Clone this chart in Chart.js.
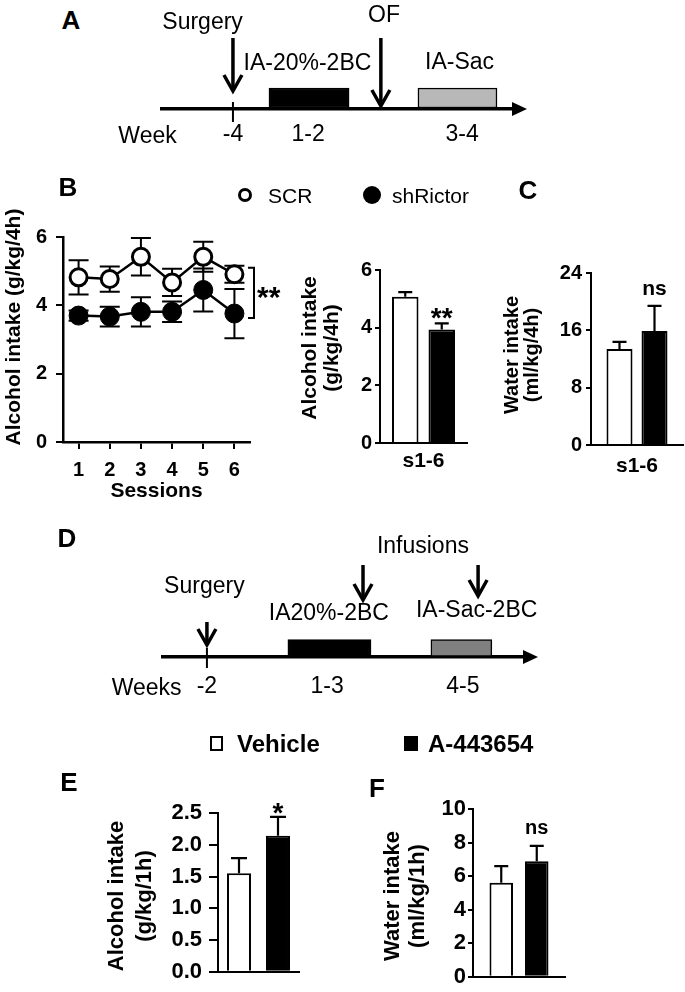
<!DOCTYPE html>
<html><head><meta charset="utf-8">
<script src="https://cdn.jsdelivr.net/npm/chart.js@4.4.1/dist/chart.umd.min.js"></script>
<style>
html,body{margin:0;padding:0;background:#fff;}
#fig{position:relative;width:685px;height:992px;overflow:hidden;background:#fff;font-family:'Liberation Sans',Arial,Helvetica,sans-serif;color:#000;}
canvas{position:absolute;}
.t{position:absolute;white-space:nowrap;line-height:1;}
.L{font-weight:bold;font-size:26px;transform:translateX(-50%);}
</style></head><body>
<div id="fig">
  <canvas id="cA" style="left:100px;top:0px" width="460" height="160"></canvas>
  <canvas id="cBline" style="left:0px;top:160px" width="300" height="350"></canvas>
  <canvas id="cBbar" style="left:290px;top:160px" width="195" height="340"></canvas>
  <canvas id="cC" style="left:480px;top:160px" width="205" height="340"></canvas>
  <canvas id="cD" style="left:100px;top:520px" width="460" height="185"></canvas>
  <canvas id="cE" style="left:100px;top:700px" width="205" height="292"></canvas>
  <canvas id="cF" style="left:370px;top:700px" width="200" height="292"></canvas>

  <div class="t L" style="left:71px;top:7px">A</div>
  <div class="t L" style="left:68px;top:174px">B</div>
  <div class="t L" style="left:528px;top:177px">C</div>
  <div class="t L" style="left:67px;top:525px">D</div>
  <div class="t L" style="left:69px;top:769px">E</div>
  <div class="t L" style="left:377px;top:775px">F</div>

  <!-- legend B -->
  <div style="position:absolute;left:238px;top:188px;width:14px;height:14px;border:3px solid #000;border-radius:50%;box-sizing:border-box;background:#fff"></div>
  <div class="t" style="left:268px;top:185px;font-size:21px">SCR</div>
  <div style="position:absolute;left:363px;top:186px;width:18px;height:18px;border-radius:50%;background:#000"></div>
  <div class="t" style="left:392px;top:185px;font-size:21px">shRictor</div>

  <!-- legend E/F -->
  <div style="position:absolute;left:210px;top:736px;width:13px;height:15px;border:2px solid #000;box-sizing:border-box;background:#fff"></div>
  <div class="t" style="left:237px;top:732px;font-size:24px;font-weight:bold">Vehicle</div>
  <div style="position:absolute;left:404px;top:736px;width:14px;height:15px;background:#000"></div>
  <div class="t" style="left:428px;top:732px;font-size:24px;font-weight:bold">A-443654</div>
</div>
<script>
// ---------------- DATA ----------------
// Panel A timeline (schematic position units 0-10)
const timelineA_blocks = [[3.03, 5.30], [7.25, 9.49]];
const timelineA_blockColors = ['#000000', '#b8b8b8'];
const timelineA_tickPos = [2.01, 4.14, 8.50];
const timelineA_tickLabels = ['-4', '1-2', '3-4'];
const timelineA_arrowPos = [2.01, 6.20];
const timelineA_texts = ['Surgery', 'IA-20%-2BC', 'OF', 'IA-Sac', 'Week'];
const timelineA_textPos = [1.15, 4.12, 6.29, 8.43, -0.41];

// Panel B (line)
const sessions = ['1', '2', '3', '4', '5', '6'];
const scrMean = [4.82, 4.77, 5.42, 4.67, 5.42, 4.91];
const scrSem  = [0.50, 0.37, 0.55, 0.40, 0.44, 0.25];
const shMean  = [3.70, 3.67, 3.81, 3.81, 4.45, 3.76];
const shSem   = [0.15, 0.29, 0.43, 0.30, 0.63, 0.72];
const bracketRange = [5.10, 3.63];

// Panel B (bar) and C
const sessCat = ['s1-6'];
const alcScr = [5.07], alcScrSem = [0.16];
const alcSh  = [3.94], alcShSem  = [0.21];
const watScr = [13.4], watScrSem = [1.0];
const watSh  = [15.9], watShSem  = [3.5];

// Panel D timeline
const timelineD_blocks = [[3.44, 5.73], [7.38, 9.06]];
const timelineD_blockColors = ['#000000', '#808080'];
const timelineD_tickPos = [1.21, 4.52, 8.26];
const timelineD_tickLabels = ['-2', '1-3', '4-5'];
const timelineD_arrowPos = [1.21, 5.51, 8.68];
const timelineD_texts = ['Infusions', 'Surgery', 'IA20%-2BC', 'IA-Sac-2BC', 'Weeks'];
const timelineD_textPos = [7.16, 1.14, 4.57, 8.64, -0.45];

// Panels E and F
const groupsEF = ['Vehicle', 'A-443654'];
const alcE = [1.55, 2.14], alcESem = [0.24, 0.30];
const watF = [5.6, 6.88], watFSem = [1.0, 0.92];

// ---------------- STYLE / HELPERS ----------------
const FAM = "'Liberation Sans', Arial, Helvetica, sans-serif";
Chart.defaults.font.family = FAM;
Chart.defaults.color = '#000';
Chart.defaults.animation = false;
Chart.defaults.responsive = false;
Chart.defaults.events = [];
Chart.defaults.plugins.legend.display = false;
Chart.defaults.plugins.tooltip.enabled = false;

function errorBars(o) {
  function draw(chart) {
    const ctx = chart.ctx, y = chart.scales.y;
    chart.data.datasets.forEach((ds, di) => {
      if (!ds.errors) return;
      chart.getDatasetMeta(di).data.forEach((el, i) => {
        const v = ds.data[i], e = ds.errors[i];
        const x = el.x;
        const yt = y.getPixelForValue(v + e);
        const yb = y.getPixelForValue(o.both ? v - e : v);
        ctx.save();
        ctx.strokeStyle = '#000'; ctx.lineWidth = o.width; ctx.lineCap = 'butt';
        ctx.beginPath();
        ctx.moveTo(x, yb); ctx.lineTo(x, yt);
        ctx.moveTo(x - o.cap, yt); ctx.lineTo(x + o.cap, yt);
        if (o.both) { ctx.moveTo(x - o.cap, yb); ctx.lineTo(x + o.cap, yb); }
        ctx.stroke();
        ctx.restore();
      });
    });
  }
  return {
    id: 'errbars',
    beforeDatasetsDraw(chart) { if (o.layer === 'before') draw(chart); },
    afterDatasetsDraw(chart) { if (o.layer !== 'before') draw(chart); }
  };
}

function yTitle(o) {
  return {
    id: 'ytitle',
    afterDraw(chart) {
      const ctx = chart.ctx;
      ctx.save();
      ctx.font = o.font; ctx.fillStyle = '#000';
      ctx.textAlign = 'center'; ctx.textBaseline = 'middle';
      o.lines.forEach((t, i) => {
        ctx.save(); ctx.translate(o.xs[i], o.yc); ctx.rotate(-Math.PI / 2);
        ctx.fillText(t, 0, 0); ctx.restore();
      });
      ctx.restore();
    }
  };
}

function notes(items) {
  return {
    id: 'notes',
    afterDatasetsDraw(chart) {
      const ctx = chart.ctx;
      items.forEach(it => {
        const ds = chart.data.datasets[it.ds];
        const el = chart.getDatasetMeta(it.ds).data[it.i];
        const v = ds.data[it.i] + (ds.errors ? ds.errors[it.i] : 0);
        const y = chart.scales.y.getPixelForValue(v) - it.gap;
        ctx.save();
        ctx.font = it.font; ctx.fillStyle = '#000';
        ctx.textAlign = 'center'; ctx.textBaseline = 'alphabetic';
        ctx.fillText(it.text, el.x, y);
        ctx.restore();
      });
    }
  };
}

function timelinePlugin(o) {
  return {
    id: 'timeline',
    afterDraw(chart) {
      const ctx = chart.ctx, xs = chart.scales.x, ca = chart.chartArea;
      ctx.save();
      ctx.fillStyle = '#000'; ctx.strokeStyle = '#000';
      // axis arrow head
      const yl = ca.bottom;
      ctx.beginPath();
      ctx.moveTo(ca.right - 3, yl - 7); ctx.lineTo(ca.right + 12, yl); ctx.lineTo(ca.right - 3, yl + 7);
      ctx.closePath(); ctx.fill();
      // tick at first event
      ctx.lineWidth = 2;
      const tx = xs.getPixelForValue(o.tickAt);
      ctx.beginPath(); ctx.moveTo(tx, o.tickSpan[0]); ctx.lineTo(tx, o.tickSpan[1]); ctx.stroke();
      // arrows
      o.arrows.forEach(a => {
        const x = xs.getPixelForValue(a.v);
        ctx.lineWidth = 3.5; ctx.lineJoin = 'miter'; ctx.lineCap = 'butt';
        ctx.beginPath(); ctx.moveTo(x, a.top); ctx.lineTo(x, a.tip - 3); ctx.stroke();
        ctx.lineWidth = 3.5;
        ctx.beginPath();
        ctx.moveTo(x - 9, a.tip - 18); ctx.lineTo(x, a.tip - 2); ctx.lineTo(x + 9, a.tip - 18);
        ctx.stroke();
      });
      // texts
      ctx.font = o.font; ctx.textAlign = 'center'; ctx.textBaseline = 'alphabetic';
      o.texts.forEach(t => ctx.fillText(t.text, xs.getPixelForValue(t.v), t.base));
      ctx.restore();
    }
  };
}

function timelineChart(id, c) {
  return new Chart(document.getElementById(id), {
    type: 'bar',
    data: {
      labels: [''],
      datasets: c.blocks.map((b, i) => ({
        data: [b], backgroundColor: c.colors[i], borderColor: '#000',
        borderWidth: 1.5, borderSkipped: false, barThickness: c.thick, grouped: false
      }))
    },
    options: {
      indexAxis: 'y',
      layout: { padding: c.padding },
      scales: {
        x: {
          type: 'linear', min: 0, max: 10,
          afterBuildTicks: s => { s.ticks = c.tickPos.map(v => ({ value: v })); },
          afterFit: s => { s.height = c.xHeight; },
          ticks: { autoSkip: false, maxRotation: 0, font: { size: 23 }, padding: c.tickPad,
                   callback: (v, i) => c.tickLabels[i] },
          grid: { display: false, drawTicks: false },
          border: { display: true, color: '#000', width: 3.5 }
        },
        y: { display: false }
      }
    },
    plugins: [timelinePlugin(c.plugin)]
  });
}

function barPanel(id, c) {
  return new Chart(document.getElementById(id), {
    type: 'bar',
    data: {
      labels: c.labels,
      datasets: c.series.map(s => ({
        label: s.label, data: s.data, errors: s.errors,
        backgroundColor: s.fill, borderColor: '#000', borderWidth: 2,
        categoryPercentage: c.catPct, barPercentage: c.barPct
      }))
    },
    options: {
      layout: { padding: c.padding },
      scales: {
        x: {
          afterFit: s => { s.height = c.xHeight; },
          ticks: { display: c.showX, font: { size: 21, weight: 'bold' }, padding: c.xPad },
          grid: { display: false, drawTicks: false },
          border: { display: true, color: '#000', width: 2 }
        },
        y: {
          min: 0, max: c.yMax,
          afterFit: s => { s.width = c.yWidth; },
          ticks: { stepSize: c.yStep, font: { size: c.tickSize, weight: 'bold' }, padding: c.tickPad,
                   callback: c.fmt },
          grid: { display: true, drawOnChartArea: false, drawTicks: true, tickLength: c.tickLen,
                  color: '#000', lineWidth: 2 },
          border: { display: true, color: '#000', width: 2 }
        }
      }
    },
    plugins: [errorBars({ layer: 'after', width: 2.2, cap: c.cap, both: false }),
              yTitle(c.title), notes(c.notes)]
  });
}

// ---------------- PANEL A ----------------
timelineChart('cA', {
  blocks: timelineA_blocks, colors: timelineA_blockColors, thick: 20,
  padding: { left: 62, right: 45, top: 87, bottom: 0 }, xHeight: 51, tickPad: 12,
  tickPos: timelineA_tickPos, tickLabels: timelineA_tickLabels,
  plugin: {
    font: '23px ' + FAM,
    tickAt: timelineA_tickPos[0], tickSpan: [102, 122],
    arrows: [{ v: timelineA_arrowPos[0], top: 38, tip: 93 }, { v: timelineA_arrowPos[1], top: 38, tip: 108 }],
    texts: timelineA_texts.map((t, i) => ({ text: t, v: timelineA_textPos[i], base: [29, 70, 22, 69, 143][i] }))
  }
});

// ---------------- PANEL B line ----------------
new Chart(document.getElementById('cBline'), {
  type: 'line',
  data: {
    labels: sessions,
    datasets: [
      { label: 'SCR', data: scrMean, errors: scrSem, borderColor: '#000', borderWidth: 2.5,
        pointRadius: 8.5, pointBorderWidth: 3, pointBackgroundColor: '#fff', pointBorderColor: '#000', tension: 0 },
      { label: 'shRictor', data: shMean, errors: shSem, borderColor: '#000', borderWidth: 2.5,
        pointRadius: 9.5, pointBorderWidth: 1, pointBackgroundColor: '#000', pointBorderColor: '#000', tension: 0 }
    ]
  },
  options: {
    layout: { padding: { top: 77, right: 50, left: 0, bottom: 0 } },
    scales: {
      x: {
        type: 'category', offset: true,
        afterFit: s => { s.height = 68; },
        ticks: { font: { size: 20, weight: 'bold' }, padding: 9 },
        grid: { display: true, drawOnChartArea: false, drawTicks: true, tickLength: 7, offset: false, color: '#000', lineWidth: 2 },
        border: { display: true, color: '#000', width: 2.5 },
        title: { display: true, text: 'Sessions', font: { size: 21, weight: 'bold' }, padding: { top: 0, bottom: 6 } }
      },
      y: {
        min: 0, max: 6,
        afterFit: s => { s.width = 63; },
        ticks: { stepSize: 2, font: { size: 20, weight: 'bold' }, padding: 9 },
        grid: { display: true, drawOnChartArea: false, drawTicks: true, tickLength: 7, color: '#000', lineWidth: 2 },
        border: { display: true, color: '#000', width: 2.5 }
      }
    }
  },
  plugins: [
    errorBars({ layer: 'before', width: 2, cap: 10, both: true }),
    yTitle({ lines: ['Alcohol intake (g/kg/4h)'], font: 'bold 21px ' + FAM, xs: [14], yc: 167 }),
    {
      id: 'bracket',
      afterDatasetsDraw(chart) {
        const ctx = chart.ctx, y = chart.scales.y, ca = chart.chartArea;
        const x = ca.right + 4;
        const y1 = y.getPixelForValue(bracketRange[0]), y2 = y.getPixelForValue(bracketRange[1]);
        ctx.save();
        ctx.strokeStyle = '#000'; ctx.lineWidth = 2;
        ctx.beginPath();
        ctx.moveTo(x - 6, y1); ctx.lineTo(x, y1); ctx.lineTo(x, y2); ctx.lineTo(x - 6, y2);
        ctx.stroke();
        ctx.font = 'bold 30px ' + FAM; ctx.fillStyle = '#000';
        ctx.textAlign = 'left'; ctx.textBaseline = 'alphabetic';
        ctx.fillText('**', x + 3, (y1 + y2) / 2 + 14);
        ctx.restore();
      }
    }
  ]
});

// ---------------- PANEL B bar ----------------
barPanel('cBbar', {
  labels: sessCat,
  series: [{ label: 'SCR', data: alcScr, errors: alcScrSem, fill: '#fff' },
           { label: 'shRictor', data: alcSh, errors: alcShSem, fill: '#000' }],
  padding: { top: 110, right: 18, left: 0, bottom: 0 }, xHeight: 57, yWidth: 90,
  yMax: 6, yStep: 2, fmt: v => v, tickSize: 20, tickPad: 3, tickLen: 5,
  showX: true, xPad: 6, catPct: 0.839, barPct: 0.726, cap: 7,
  title: { lines: ['Alcohol intake', '(g/kg/4h)'], font: 'bold 21px ' + FAM, xs: [20, 42], yc: 188 },
  notes: [{ ds: 1, i: 0, text: '**', font: 'bold 28px ' + FAM, gap: -4 }]
});

// ---------------- PANEL C ----------------
barPanel('cC', {
  labels: sessCat,
  series: [{ label: 'SCR', data: watScr, errors: watScrSem, fill: '#fff' },
           { label: 'shRictor', data: watSh, errors: watShSem, fill: '#000' }],
  padding: { top: 113, right: 2, left: 0, bottom: 0 }, xHeight: 55, yWidth: 111,
  yMax: 24, yStep: 8, fmt: v => v, tickSize: 20, tickPad: 4, tickLen: 5,
  showX: true, xPad: 9, catPct: 0.761, barPct: 0.743, cap: 7,
  title: { lines: ['Water intake', '(ml/kg/4h)'], font: 'bold 20px ' + FAM, xs: [32, 52], yc: 195 },
  notes: [{ ds: 1, i: 0, text: 'ns', font: 'bold 21px ' + FAM, gap: 11 }]
});

// ---------------- PANEL D ----------------
timelineChart('cD', {
  blocks: timelineD_blocks, colors: timelineD_blockColors, thick: 17,
  padding: { left: 63, right: 34, top: 119, bottom: 0 }, xHeight: 48, tickPad: 16,
  tickPos: timelineD_tickPos, tickLabels: timelineD_tickLabels,
  plugin: {
    font: '23px ' + FAM,
    tickAt: timelineD_tickPos[0], tickSpan: [128, 148],
    arrows: [{ v: timelineD_arrowPos[0], top: 102, tip: 127 },
             { v: timelineD_arrowPos[1], top: 45, tip: 82 },
             { v: timelineD_arrowPos[2], top: 45, tip: 78 }],
    texts: timelineD_texts.map((t, i) => ({ text: t, v: timelineD_textPos[i], base: [33, 73, 100, 97, 175][i] }))
  }
});

// ---------------- PANEL E ----------------
barPanel('cE', {
  labels: [''],
  series: [{ label: groupsEF[0], data: [alcE[0]], errors: [alcESem[0]], fill: '#fff' },
           { label: groupsEF[1], data: [alcE[1]], errors: [alcESem[1]], fill: '#000' }],
  padding: { top: 113, right: 6, left: 0, bottom: 0 }, xHeight: 9, yWidth: 118,
  yMax: 2.5, yStep: 0.5, fmt: v => Number(v).toFixed(1), tickSize: 22, tickPad: 7, tickLen: 9,
  showX: false, xPad: 0, catPct: 0.963, barPct: 0.615, cap: 8,
  title: { lines: ['Alcohol intake', '(g/kg/1h)'], font: 'bold 22px ' + FAM, xs: [17, 45], yc: 196 },
  notes: [{ ds: 1, i: 0, text: '*', font: 'bold 28px ' + FAM, gap: -5 }]
});

// ---------------- PANEL F ----------------
barPanel('cF', {
  labels: [''],
  series: [{ label: groupsEF[0], data: [watF[0]], errors: [watFSem[0]], fill: '#fff' },
           { label: groupsEF[1], data: [watF[1]], errors: [watFSem[1]], fill: '#000' }],
  padding: { top: 109, right: 5, left: 0, bottom: 0 }, xHeight: 12, yWidth: 103,
  yMax: 10, yStep: 2, fmt: v => v, tickSize: 22, tickPad: 2, tickLen: 5,
  showX: false, xPad: 0, catPct: 0.772, barPct: 0.662, cap: 7,
  title: { lines: ['Water intake', '(ml/kg/1h)'], font: 'bold 22px ' + FAM, xs: [23, 48], yc: 196 },
  notes: [{ ds: 1, i: 0, text: 'ns', font: 'bold 20px ' + FAM, gap: 12 }]
});
</script>
</body></html>
